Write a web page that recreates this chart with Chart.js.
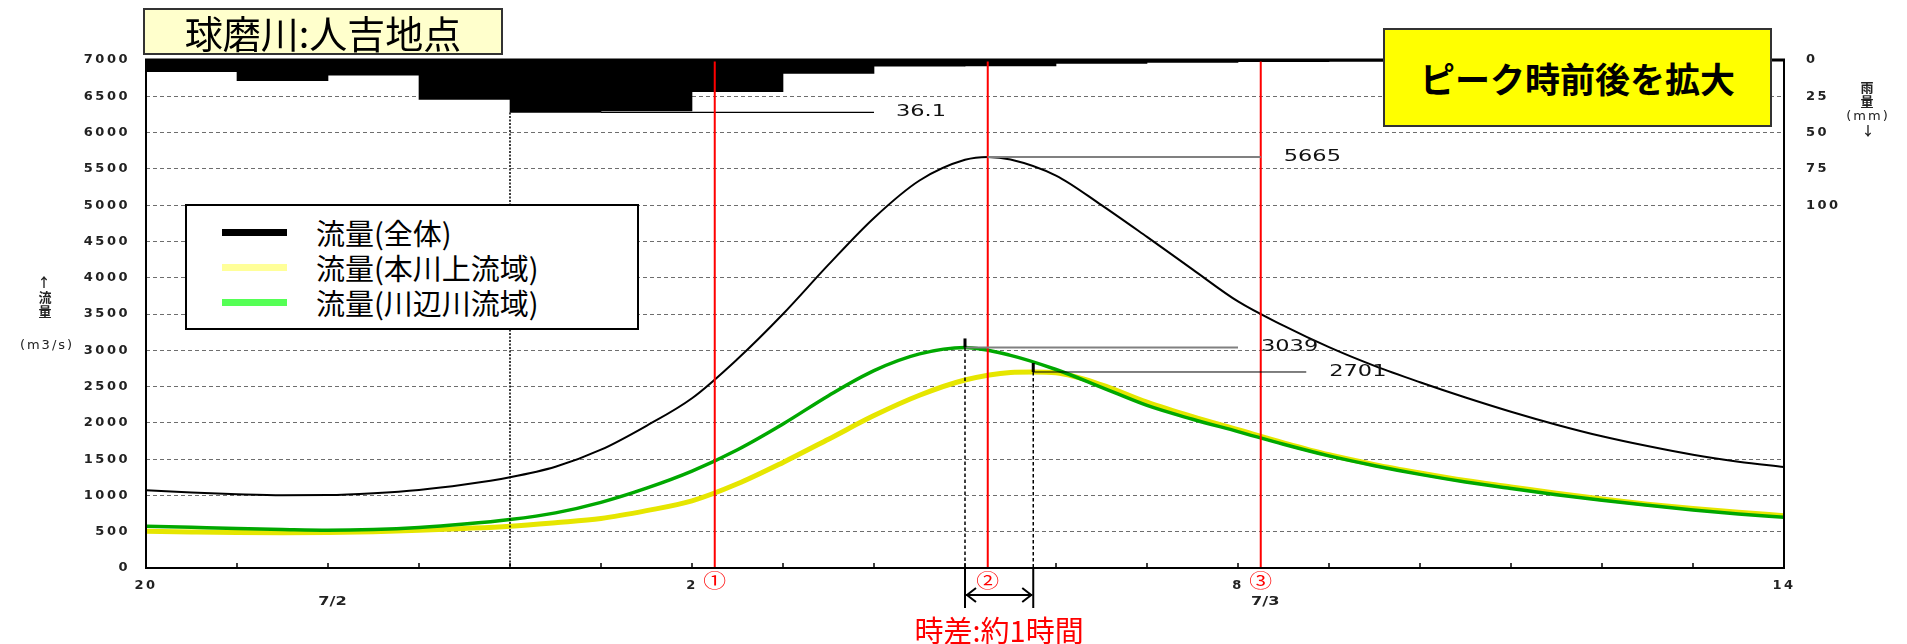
<!DOCTYPE html>
<html lang="ja">
<head>
<meta charset="utf-8">
<title>球磨川:人吉地点</title>
<script src="https://cdn.jsdelivr.net/npm/chart.js@4.4.1/dist/chart.umd.min.js"></script>
<style>
  html, body { margin: 0; padding: 0; background: #fff; }
  #stage { position: relative; width: 1907px; height: 644px; overflow: hidden; font-family: "Noto Sans CJK JP", sans-serif; color: #000; }
  #chart { position: absolute; left: 0; top: 0; }
  .tag { position: absolute; box-sizing: border-box; display: flex; align-items: center; justify-content: center; white-space: nowrap; line-height: 1; }
  #title { left: 143px; top: 8px; width: 360px; height: 47px; background: #ffffcc; border: 2px solid #333; font-size: 38px; }
  #note { left: 1383px; top: 28px; width: 389px; height: 99px; background: #ffff00; border: 2px solid #333; font-size: 35px; font-weight: 700; }
  #legend { position: absolute; left: 185px; top: 204px; width: 454px; height: 126px; box-sizing: border-box; border: 2px solid #000; background: #fff; }
  .item { position: absolute; left: 0; width: 100%; height: 32px; }
  .item .sw { position: absolute; left: 35px; top: 12.5px; width: 65px; height: 7px; }
  .item .lb { position: absolute; left: 129px; top: 0; font-size: 29px; line-height: 32px; white-space: nowrap; }
  .unit { position: absolute; font-size: 13px; line-height: 1; font-weight: 700; color: #222; transform: translate(-50%, -50%); white-space: nowrap; }
  .unit.wide { font-family: "DejaVu Sans", sans-serif; font-weight: 400; letter-spacing: 2px; font-size: 13px; }
</style>
</head>
<body>
<div id="stage">
  <canvas id="chart" width="1907" height="644"></canvas>
  <div id="title" class="tag">球磨川:人吉地点</div>
  <div id="note" class="tag">ピーク時前後を拡大</div>
  <div id="legend">
    <div class="item" style="top:10px"><span class="sw" style="background:#000"></span><span class="lb">流量(全体)</span></div>
    <div class="item" style="top:45px"><span class="sw" style="background:#ffff99"></span><span class="lb">流量(本川上流域)</span></div>
    <div class="item" style="top:80px"><span class="sw" style="background:#55ff55"></span><span class="lb">流量(川辺川流域)</span></div>
  </div>
  <div class="unit" style="left:44px;top:281px">↑</div>
  <div class="unit" style="left:45px;top:296px">流</div>
  <div class="unit" style="left:45px;top:310px">量</div>
  <div class="unit wide" style="left:47px;top:344px">(m3/s)</div>
  <div class="unit" style="left:1867px;top:86px">雨</div>
  <div class="unit" style="left:1867px;top:100px">量</div>
  <div class="unit wide" style="left:1868px;top:115px">(mm)</div>
  <div class="unit" style="left:1868px;top:129px">↓</div>
</div>
<script>
// Hours elapsed since 7/2 20:00, sampled every 30 minutes
const hours = [0, 0.5, 1, 1.5, 2, 2.5, 3, 3.5, 4, 4.5, 5, 5.5, 6, 6.5, 7, 7.5, 8, 8.5, 9,
               9.5, 10, 10.5, 11, 11.5, 12, 12.5, 13, 13.5, 14, 14.5, 15, 15.5, 16, 16.5, 17, 17.5, 18];

// Discharge (m3/s)
const flowTotal  = [1073, 1040, 1017, 1003, 1005, 1030, 1075, 1150, 1250, 1395, 1630, 1960, 2339, 2880, 3500, 4180, 4824, 5340, 5625,
                    5630, 5408, 5000, 4562, 4115, 3673, 3340, 3043, 2785, 2560, 2350, 2154, 1975, 1815, 1680, 1560, 1465, 1390];
const flowMain   = [507, 497, 489, 486, 489, 500, 520, 545, 576, 625, 682, 790, 925, 1160, 1455, 1775, 2100, 2380, 2590,
                    2695, 2690, 2525, 2285, 2085, 1905, 1725, 1560, 1425, 1310, 1205, 1118, 1030, 950, 880, 820, 768, 720];
const flowKawabe = [576, 560, 544, 530, 520, 530, 558, 605, 668, 760, 905, 1100, 1335, 1630, 1985, 2375, 2720, 2950, 3039,
                    2930, 2735, 2490, 2240, 2050, 1880, 1705, 1545, 1410, 1290, 1185, 1095, 1010, 935, 865, 800, 745, 700];

// Peak discharge of each series: 全体, 本川上流域, 川辺川流域
const peakHours  = [9.25, 9.75, 9.0];
const peakValues = [5665, 2701, 3039];

// Hourly rainfall (mm); bar i covers hour rainStart[i] .. rainStart[i] + 1
const rainStart = [0, 1, 2, 3, 4, 5, 6, 7, 8, 9, 10, 11, 12, 13, 14, 15, 16, 17];
const rainfall  = [8.0, 14.3, 10.4, 27.2, 36.1, 35.0, 21.9, 9.2, 4.2, 4.0, 2.3, 1.6, 1.1, 0.8, 0.5, 0.3, 0.2, 0.2];

// Axis text
const xLabelHours = [0, 6, 12, 18];
const xLabelText  = ['20', '2', '8', '14'];
const dateHours   = [2.05, 12.3];
const dateText    = ['7/2', '7/3'];
const markerHours = [6.25, 9.25, 12.25];
const markerText  = ['①', '②', '③'];
const rainTickMax = 100;

function seriesWithPeak(values, peakH, peakV) {
  const pts = hours.map((h, i) => ({ x: h, y: values[i] }));
  if (!hours.includes(peakH)) pts.push({ x: peakH, y: peakV });
  return pts.sort((a, b) => a.x - b.x);
}

function seg(ctx, x1, y1, x2, y2) {
  ctx.beginPath(); ctx.moveTo(x1, y1); ctx.lineTo(x2, y2); ctx.stroke();
}

// Wide, horizontally stretched label text
function wideText(ctx, txt, x, y, font, color, sx, align) {
  ctx.save();
  ctx.font = font; ctx.fillStyle = color;
  ctx.textBaseline = 'middle'; ctx.textAlign = align;
  ctx.translate(x, y); ctx.scale(sx, 1);
  ctx.fillText(txt, 0, 0);
  ctx.restore();
}

const NUM_FONT = '15.5px "DejaVu Sans", sans-serif';

const decorations = {
  id: 'decorations',
  beforeDraw(chart) { chart.ctx.letterSpacing = '2.5px'; },
  afterDatasetsDraw(chart) {
    const { ctx, chartArea: a, scales } = chart;
    const x = scales.x, y = scales.y, r = scales.rain;
    ctx.save();
    ctx.letterSpacing = '0px';
    ctx.lineCap = 'butt';

    // hour ticks on the inside of the time axis
    ctx.strokeStyle = '#000'; ctx.lineWidth = 1.5;
    x.ticks.forEach(t => {
      const px = x.getPixelForValue(t.value);
      seg(ctx, px, a.bottom, px, a.bottom - 5);
    });

    // heaviest hourly rainfall: dotted drop and value label
    const iMax = rainfall.indexOf(Math.max(...rainfall));
    const ry = r.getPixelForValue(rainfall[iMax]);
    ctx.setLineDash([2, 1.5]); ctx.lineWidth = 1.5;
    seg(ctx, x.getPixelForValue(rainStart[iMax]), ry, x.getPixelForValue(rainStart[iMax]), a.bottom);
    ctx.setLineDash([]); ctx.lineWidth = 1.2;
    const rx1 = x.getPixelForValue(rainStart[iMax] + 1), rx2 = x.getPixelForValue(rainStart[iMax] + 4);
    seg(ctx, rx1, ry, rx2, ry);
    wideText(ctx, rainfall[iMax].toFixed(1), rx2 + 22, ry, NUM_FONT, '#111', 1.45, 'left');

    // red reference times
    ctx.strokeStyle = '#ff0000'; ctx.lineWidth = 2;
    markerHours.forEach((h, i) => {
      const px = x.getPixelForValue(h);
      seg(ctx, px, a.top, px, a.bottom);
      wideText(ctx, markerText[i], px, a.bottom + 13, '19px "Noto Sans CJK JP", sans-serif', '#ff0000', 1.2, 'center');
    });

    // peak leaders and values
    const leaderColor = ['#808080', '#000000', '#808080'];
    const leaderWidth = [2, 1, 2];
    peakHours.forEach((h, i) => {
      const px = x.getPixelForValue(h), py = y.getPixelForValue(peakValues[i]);
      const ex = x.getPixelForValue(h + 3);
      ctx.strokeStyle = leaderColor[i]; ctx.lineWidth = leaderWidth[i];
      seg(ctx, px, py, ex, py);
      wideText(ctx, String(peakValues[i]), ex + 23, py, NUM_FONT, '#111', 1.45, 'left');
    });

    // time lag between the two tributary peaks
    const xs = [1, 2].map(i => ({ px: x.getPixelForValue(peakHours[i]), py: y.getPixelForValue(peakValues[i]) }));
    ctx.strokeStyle = '#000';
    xs.forEach(p => {
      ctx.setLineDash([3.5, 2.5]); ctx.lineWidth = 1.5;
      seg(ctx, p.px, p.py, p.px, a.bottom);
      ctx.setLineDash([]); ctx.lineWidth = 2;
      seg(ctx, p.px, a.bottom, p.px, a.bottom + 40);
      ctx.fillStyle = '#000';
      ctx.fillRect(p.px - 1.5, p.py - 9, 3, 9);
    });
    const ay = a.bottom + 27, xl = Math.min(xs[0].px, xs[1].px), xr = Math.max(xs[0].px, xs[1].px);
    ctx.lineWidth = 2;
    seg(ctx, xl + 1, ay, xr - 1, ay);
    ctx.beginPath();
    ctx.moveTo(xl + 11, ay - 7); ctx.lineTo(xl + 2, ay); ctx.lineTo(xl + 11, ay + 7);
    ctx.moveTo(xr - 11, ay - 7); ctx.lineTo(xr - 2, ay); ctx.lineTo(xr - 11, ay + 7);
    ctx.stroke();
    ctx.font = '29px "Noto Sans CJK JP", sans-serif';
    ctx.fillStyle = '#ff0000'; ctx.textAlign = 'center'; ctx.textBaseline = 'middle';
    ctx.fillText('時差:約1時間', (xl + xr) / 2, a.bottom + 63);

    // dates under the hour labels
    dateHours.forEach((h, i) => {
      wideText(ctx, dateText[i], x.getPixelForValue(h), a.bottom + 34, 'bold 12px "DejaVu Sans", sans-serif', '#222', 1.35, 'center');
    });

    // plot frame
    ctx.strokeStyle = '#000'; ctx.lineWidth = 2;
    ctx.strokeRect(a.left, a.top, a.right - a.left, a.bottom - a.top);
    ctx.fillStyle = '#000';
    ctx.fillRect(a.left - 1, a.top - 1.5, a.right - a.left + 2, 3);
    ctx.restore();
  },
  afterDraw(chart) { chart.ctx.letterSpacing = '0px'; }
};

const tickFont = { family: 'DejaVu Sans', size: 13, weight: 'bold' };

new Chart(document.getElementById('chart'), {
  type: 'line',
  data: {
    datasets: [
      { label: '流量(全体)', data: seriesWithPeak(flowTotal, peakHours[0], peakValues[0]),
        borderColor: '#000000', borderWidth: 2, cubicInterpolationMode: 'monotone', yAxisID: 'y' },
      { label: '流量(川辺川流域)', data: seriesWithPeak(flowKawabe, peakHours[2], peakValues[2]),
        borderColor: '#00a800', borderWidth: 3.5, cubicInterpolationMode: 'monotone', yAxisID: 'y' },
      { label: '流量(本川上流域)', data: seriesWithPeak(flowMain, peakHours[1], peakValues[1]),
        borderColor: '#e6e600', borderWidth: 5, cubicInterpolationMode: 'monotone', yAxisID: 'y' },
      { type: 'bar', label: '雨量', data: rainStart.map((h, i) => ({ x: h + 0.5, y: rainfall[i] })),
        yAxisID: 'rain', backgroundColor: '#000000', borderWidth: 0,
        barPercentage: 1, categoryPercentage: 1 }
    ]
  },
  options: {
    responsive: false,
    animation: false,
    devicePixelRatio: 1,
    layout: { padding: { top: 60, left: 0, right: 0, bottom: 0 } },
    elements: { point: { radius: 0 } },
    plugins: { legend: { display: false }, tooltip: { enabled: false } },
    scales: {
      x: {
        type: 'linear', position: 'bottom', min: 0, max: 18, offset: false,
        afterFit(s) { s.height = 76; },
        ticks: {
          stepSize: 1, autoSkip: false, maxRotation: 0, padding: 2, color: '#222',
          font: { family: 'DejaVu Sans', size: 13, weight: 'bold' },
          callback: v => { const i = xLabelHours.indexOf(v); return i >= 0 ? xLabelText[i] : ''; }
        },
        grid: { display: false, offset: false },
        border: { display: false }
      },
      y: {
        position: 'left', min: 0, max: 7000,
        afterFit(s) { s.width = 146; },
        ticks: { stepSize: 500, padding: 16, color: '#222', font: tickFont, callback: v => String(v) },
        grid: { color: '#6e6e6e', lineWidth: 1, drawTicks: false },
        border: { display: false, dash: [4, 3] }
      },
      rain: {
        position: 'right', reverse: true, min: 0, max: 350,
        afterFit(s) { s.width = 123; },
        ticks: { stepSize: 25, padding: 22, color: '#222', font: tickFont,
                 callback: v => (v <= rainTickMax ? String(v) : '') },
        grid: { display: false, drawTicks: false },
        border: { display: false }
      }
    }
  },
  plugins: [decorations]
});
</script>
</body>
</html>
